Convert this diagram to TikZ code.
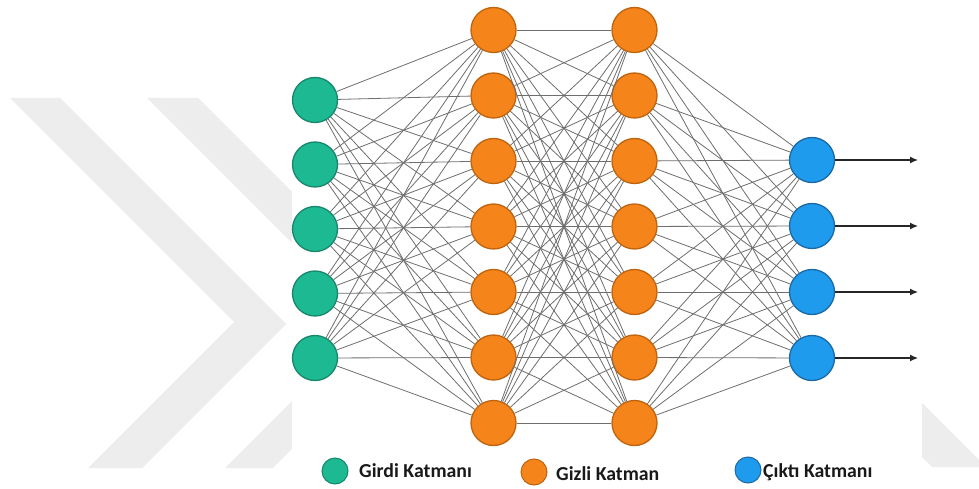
\documentclass[tikz,border=0pt]{standalone}
\usepackage{fontspec}
\setmainfont{Carlito}
\usetikzlibrary{arrows.meta}
\definecolor{tealfill}{HTML}{1DB992}
\definecolor{tealline}{HTML}{16876B}
\definecolor{orngfill}{HTML}{F5841A}
\definecolor{ornglline}{HTML}{BF630E}
\definecolor{blufill}{HTML}{1F9BEE}
\definecolor{bluline}{HTML}{1B6AA6}
\definecolor{edgegray}{HTML}{6E6E6E}
\definecolor{wmgray}{HTML}{EDEDED}
\begin{document}
\begin{tikzpicture}[x=1pt,y=-1pt,
  neuron/.style={circle,inner sep=0pt,minimum size=45pt,line width=1.3pt},
  innode/.style={neuron,fill=tealfill,draw=tealline},
  hidnode/.style={neuron,fill=orngfill,draw=ornglline},
  outnode/.style={neuron,fill=blufill,draw=bluline},
  conn/.style={draw=edgegray,line width=0.8pt},
  outarrow/.style={line width=1.2pt,draw=black!85,-{Latex[length=8pt,width=7pt]}},
  legdot/.style={circle,inner sep=0pt,minimum size=26pt,line width=1pt},
  legtext/.style={anchor=base west,inner sep=0pt,font=\bfseries\fontsize{19.8}{22}\selectfont,text=black!90}]
\useasboundingbox (0,0) rectangle (979,489);
\fill[white] (0,0) rectangle (979,489);
% watermark
\fill[wmgray] (10,98) -- (60,98) -- (286,324) -- (142,468) -- (88,468) -- (234,322) -- cycle;
\fill[wmgray] (147,98) -- (198,98) -- (420,320) -- (273,468) -- (225,468) -- (371,322) -- cycle;
\fill[wmgray] (922,403) -- (979,460) -- (979,467) -- (932,467) -- (922,457) -- cycle;
% diagram background
\fill[white] (292,0) rectangle (922,489);
% nodes
\foreach \i/\y in {1/100,2/164.5,3/229,4/293.5,5/358}
  \node[innode] (i\i) at (315,\y) {};
\foreach \i/\y in {1/30,2/95.5,3/161,4/226.5,5/292,6/357.5,7/423}{
  \node[hidnode] (h\i) at (493.5,\y) {};
  \node[hidnode] (g\i) at (634.5,\y) {};
}
\foreach \i/\y in {1/160,2/226,3/292,4/358}{
  \node[outnode] (o\i) at (812,\y) {};
  \coordinate (e\i) at (918,\y);
}
% connections
\foreach \a in {1,...,5}
  \foreach \b in {1,...,7}
    \draw[conn] (i\a) -- (h\b);
\foreach \a in {1,...,7}
  \foreach \b in {1,...,7}
    \draw[conn] (h\a) -- (g\b);
\foreach \a in {1,...,7}
  \foreach \b in {1,...,4}
    \draw[conn] (g\a) -- (o\b);
\foreach \i in {1,...,4}
  \draw[outarrow] (o\i) -- (e\i);
% legend
\node[legdot,fill=tealfill,draw=tealline] (l1) at (335,471) {};
\node[legtext] (t1) at (359,477) {Girdi Katmanı};
\node[legdot,fill=orngfill,draw=ornglline] (l2) at (534,472) {};
\node[legtext] (t2) at (556,480) {Gizli Katman};
\node[legdot,fill=blufill,draw=bluline] (l3) at (748,470) {};
\node[legtext] (t3) at (763,477) {Çıktı Katmanı};
\end{tikzpicture}
\end{document}
